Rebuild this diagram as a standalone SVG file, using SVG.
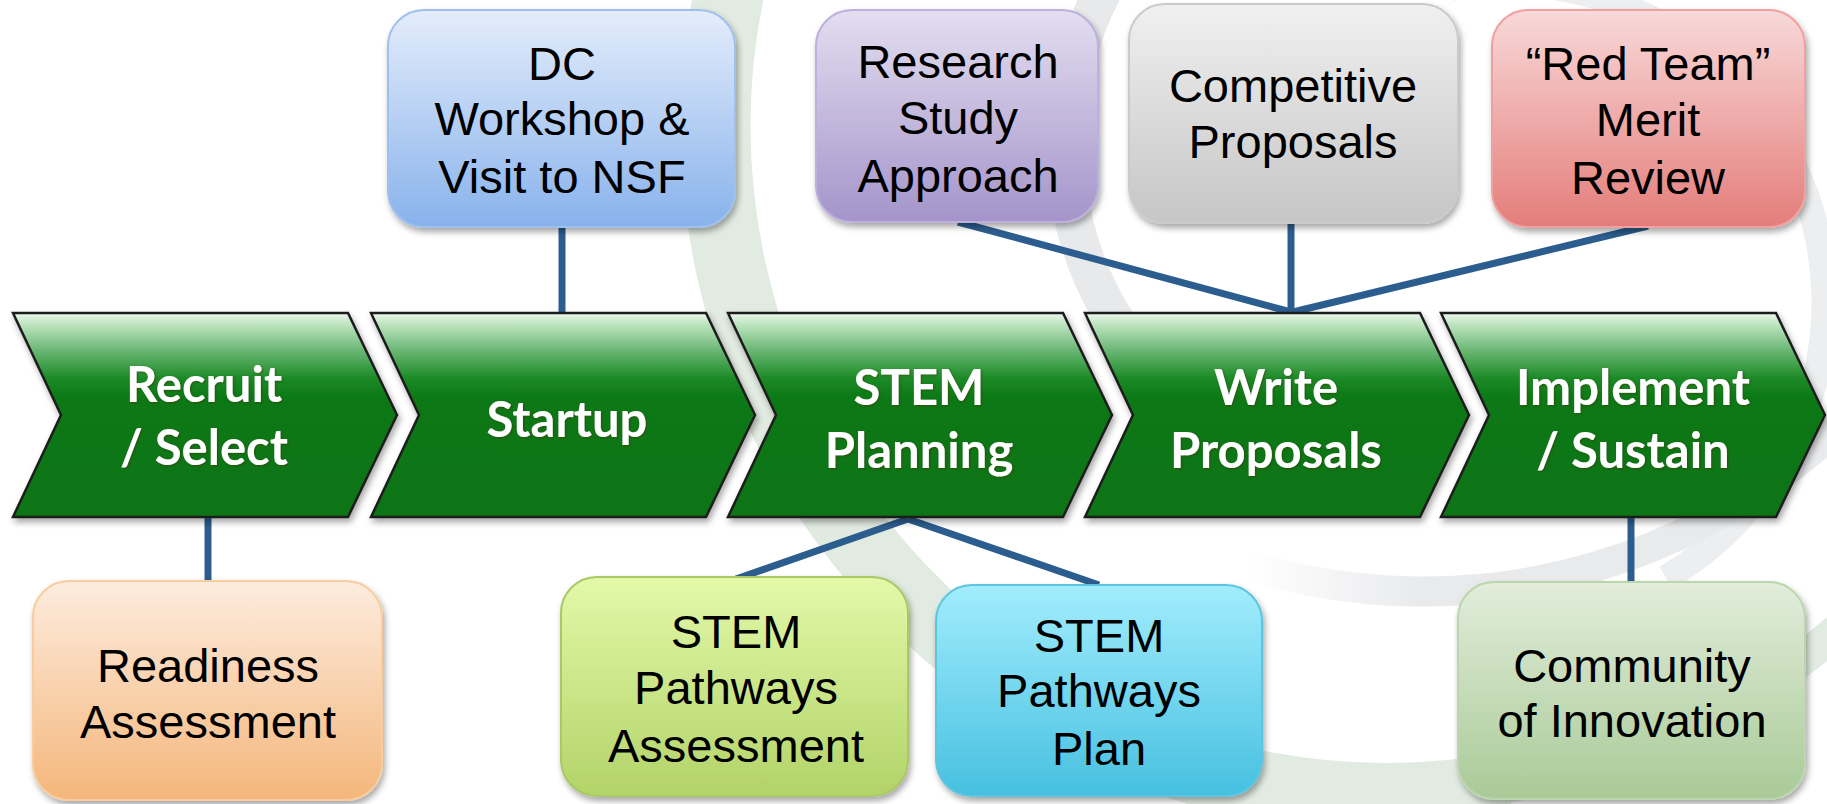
<svg xmlns="http://www.w3.org/2000/svg" width="1827" height="804" viewBox="0 0 1827 804">
<defs>
<linearGradient id="gChev" x1="0" y1="0" x2="0" y2="1">
<stop offset="0" stop-color="#eef8ee"/>
<stop offset="0.05" stop-color="#c2e6c4"/>
<stop offset="0.18" stop-color="#6cb876"/>
<stop offset="0.32" stop-color="#1c8a26"/>
<stop offset="0.42" stop-color="#0b7815"/>
<stop offset="1" stop-color="#0a7414"/>
</linearGradient>
<linearGradient id="gBlue" x1="0" y1="0" x2="0" y2="1"><stop offset="0" stop-color="#e4edfb"/><stop offset="1" stop-color="#88b2ec"/></linearGradient>
<linearGradient id="gPurple" x1="0" y1="0" x2="0" y2="1"><stop offset="0" stop-color="#e3def0"/><stop offset="1" stop-color="#a494ca"/></linearGradient>
<linearGradient id="gGray" x1="0" y1="0" x2="0" y2="1"><stop offset="0" stop-color="#f0f0f0"/><stop offset="1" stop-color="#c6c6c6"/></linearGradient>
<linearGradient id="gRed" x1="0" y1="0" x2="0" y2="1"><stop offset="0" stop-color="#f8d9d9"/><stop offset="1" stop-color="#e47d7a"/></linearGradient>
<linearGradient id="gOrange" x1="0" y1="0" x2="0" y2="1"><stop offset="0" stop-color="#fdecde"/><stop offset="1" stop-color="#f4b67b"/></linearGradient>
<linearGradient id="gLime" x1="0" y1="0" x2="0" y2="1"><stop offset="0" stop-color="#e3f9a9"/><stop offset="1" stop-color="#b2d368"/></linearGradient>
<linearGradient id="gCyan" x1="0" y1="0" x2="0" y2="1"><stop offset="0" stop-color="#a2edfd"/><stop offset="1" stop-color="#46c0e0"/></linearGradient>
<linearGradient id="gSage" x1="0" y1="0" x2="0" y2="1"><stop offset="0" stop-color="#e2eddb"/><stop offset="1" stop-color="#a9ca97"/></linearGradient>
<linearGradient id="gFade" gradientUnits="userSpaceOnUse" x1="1250" y1="0" x2="1420" y2="0">
<stop offset="0" stop-color="#e9eaec" stop-opacity="0"/>
<stop offset="1" stop-color="#e9eaec" stop-opacity="1"/>
</linearGradient>
<filter id="shadow" x="-10%" y="-10%" width="125%" height="130%">
<feDropShadow dx="2" dy="4" stdDeviation="3" flood-color="#000" flood-opacity="0.35"/>
</filter>
<filter id="tshadow" x="-10%" y="-20%" width="120%" height="150%">
<feDropShadow dx="1" dy="1" stdDeviation="1" flood-color="#3a3a00" flood-opacity="0.7"/>
</filter>
</defs>
<style>
.box { stroke-width: 2; filter: url(#shadow); }
.lbl { font-family: "Liberation Sans", Arial, sans-serif; font-size: 47px; fill: #000; text-anchor: middle; }
.chev { fill: url(#gChev); stroke: #1e1e1e; stroke-width: 2.5; stroke-linejoin: miter; filter: url(#shadow); }
.clbl { font-family: Lato, "Open Sans", sans-serif; font-weight: 700; font-size: 49px; fill: #fff; text-anchor: middle; filter: url(#tshadow); }
.con { stroke: #2c5d8f; stroke-width: 7; fill: none; stroke-linecap: butt; }
.bg { fill: none; }
</style>
<rect width="1827" height="804" fill="#ffffff"/>
<g id="background">
<path class="bg" d="M 734 -30 A 672 672 0 0 0 1508 787" stroke="#e1ebe1" stroke-width="70"/>
<path class="bg" d="M 1500 787 A 672 672 0 0 0 1880 590" stroke="#e1ebe1" stroke-width="34"/>
<path class="bg" d="M 1282 -165 A 330 330 0 0 0 1142 357" stroke="#e8e9eb" stroke-width="38"/>
<path class="bg" d="M 1451 -12 A 319 319 0 0 1 1666 578" stroke="#eceef0" stroke-width="26"/>
<path class="bg" d="M 1886 377 A 605 605 0 0 1 1250 566" stroke="url(#gFade)" stroke-width="30"/>
</g>
<g id="connectors">
<line class="con" x1="562" y1="225" x2="562" y2="314"/>
<line class="con" x1="958" y1="222" x2="1291" y2="312"/>
<line class="con" x1="1291" y1="222" x2="1291" y2="314"/>
<line class="con" x1="1648" y1="226" x2="1293" y2="312"/>
<line class="con" x1="208" y1="516" x2="208" y2="582"/>
<line class="con" x1="908" y1="519" x2="736" y2="579"/>
<line class="con" x1="908" y1="519" x2="1099" y2="585"/>
<line class="con" x1="1631" y1="516" x2="1631" y2="583"/>
</g>
<g id="chevron-recruit">
<path class="chev" d="M 13 313 L 348 313 L 397 415 L 348 517 L 13 517 L 61 415 Z"/>
<text class="clbl" x="204" y="402">Recruit</text>
<text class="clbl" x="204" y="465">/ Select</text>
</g>
<g id="chevron-startup">
<path class="chev" d="M 371 313 L 706 313 L 755 415 L 706 517 L 371 517 L 419 415 Z"/>
<text class="clbl" x="567" y="437">Startup</text>
</g>
<g id="chevron-stem-planning">
<path class="chev" d="M 728 313 L 1063 313 L 1112 415 L 1063 517 L 728 517 L 776 415 Z"/>
<text class="clbl" x="919" y="405">STEM</text>
<text class="clbl" x="919" y="468">Planning</text>
</g>
<g id="chevron-write-proposals">
<path class="chev" d="M 1085 313 L 1420 313 L 1469 415 L 1420 517 L 1085 517 L 1133 415 Z"/>
<text class="clbl" x="1276" y="405">Write</text>
<text class="clbl" x="1276" y="468">Proposals</text>
</g>
<g id="chevron-implement">
<path class="chev" d="M 1441 313 L 1776 313 L 1825 415 L 1776 517 L 1441 517 L 1489 415 Z"/>
<text class="clbl" x="1633" y="405">Implement</text>
<text class="clbl" x="1633" y="468">/ Sustain</text>
</g>
<g id="box-dc-workshop">
<rect class="box" x="388" y="10" width="347" height="217" rx="36" fill="url(#gBlue)" stroke="#9fc0ec"/>
<text class="lbl" x="562" y="80">DC</text>
<text class="lbl" x="562" y="135">Workshop &amp;</text>
<text class="lbl" x="562" y="193">Visit to NSF</text>
</g>
<g id="box-research">
<rect class="box" x="816" y="10" width="282" height="212" rx="36" fill="url(#gPurple)" stroke="#bcb0dc"/>
<text class="lbl" x="958" y="78">Research</text>
<text class="lbl" x="958" y="134">Study</text>
<text class="lbl" x="958" y="192">Approach</text>
</g>
<g id="box-competitive">
<rect class="box" x="1129" y="4" width="329" height="219" rx="36" fill="url(#gGray)" stroke="#cacaca"/>
<text class="lbl" x="1293" y="102">Competitive</text>
<text class="lbl" x="1293" y="158">Proposals</text>
</g>
<g id="box-red-team">
<rect class="box" x="1492" y="10" width="313" height="217" rx="36" fill="url(#gRed)" stroke="#f0a09e"/>
<text class="lbl" x="1648" y="80">“Red Team”</text>
<text class="lbl" x="1648" y="136">Merit</text>
<text class="lbl" x="1648" y="194">Review</text>
</g>
<g id="box-readiness">
<rect class="box" x="33" y="581" width="349" height="219" rx="36" fill="url(#gOrange)" stroke="#f8cc9e"/>
<text class="lbl" x="208" y="682">Readiness</text>
<text class="lbl" x="208" y="738">Assessment</text>
</g>
<g id="box-stem-assessment">
<rect class="box" x="561" y="577" width="347" height="219" rx="36" fill="url(#gLime)" stroke="#a9c866"/>
<text class="lbl" x="736" y="648">STEM</text>
<text class="lbl" x="736" y="704">Pathways</text>
<text class="lbl" x="736" y="762">Assessment</text>
</g>
<g id="box-stem-plan">
<rect class="box" x="936" y="585" width="326" height="211" rx="36" fill="url(#gCyan)" stroke="#5ec4e0"/>
<text class="lbl" x="1099" y="652">STEM</text>
<text class="lbl" x="1099" y="707">Pathways</text>
<text class="lbl" x="1099" y="765">Plan</text>
</g>
<g id="box-community">
<rect class="box" x="1458" y="582" width="347" height="217" rx="36" fill="url(#gSage)" stroke="#bbd6ad"/>
<text class="lbl" x="1632" y="682">Community</text>
<text class="lbl" x="1632" y="737">of Innovation</text>
</g>
</svg>
